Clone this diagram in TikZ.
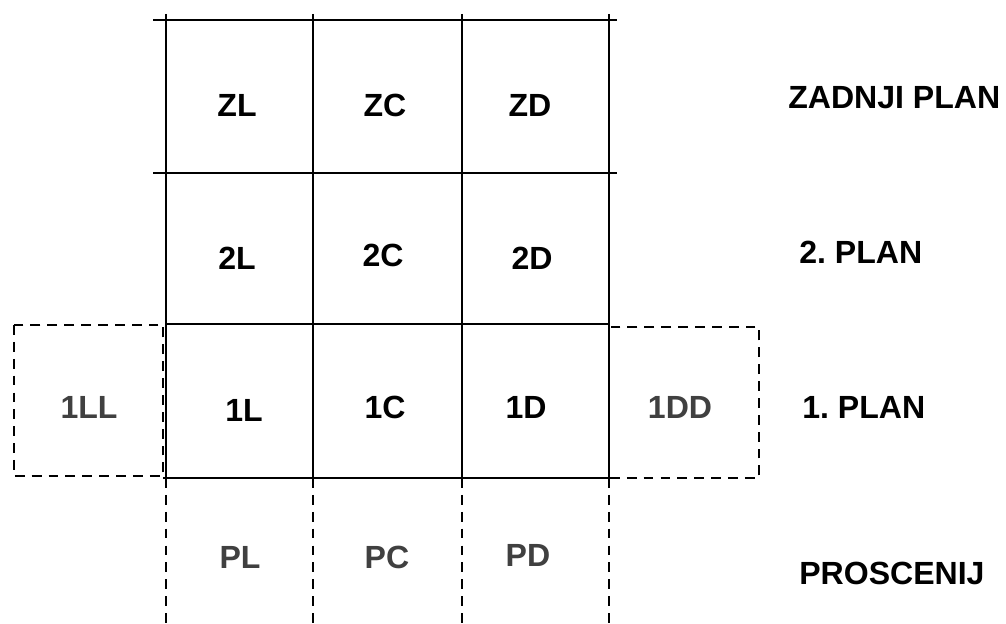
\documentclass[tikz,border=0pt]{standalone}
\usepackage{fontspec}
\setmainfont{Liberation Sans}
\definecolor{siva}{RGB}{64,64,64}
\frenchspacing
\begin{document}
\begin{tikzpicture}[x=0.025cm, y=-0.025cm,
    every node/.style={font=\bfseries\fontsize{22.8}{27}\selectfont, inner sep=0pt},
    grid/.style={line width=1.6pt},
    extra/.style={line width=1.5pt, dash pattern=on 7pt off 5pt},
    pale/.style={text=siva}]
    \fill[white] (0,0) rectangle (1006,624);
    \useasboundingbox (0,0) rectangle (1006,624);

    % solid grid
    \draw[grid] (153,20) -- (617,20);
    \draw[grid] (153,173) -- (617,173);
    \draw[grid] (166,324) -- (609,324);
    \draw[grid] (163,478) -- (609,478);
    \draw[grid] (166,14) -- (166,478);
    \draw[grid] (313,14) -- (313,478);
    \draw[grid] (462,14) -- (462,478);
    \draw[grid] (609,14) -- (609,478);

    % dashed parts
    \draw[extra] (14,325) rectangle (163,476);
    \draw[extra] (609,327) rectangle (759,478);
    \draw[extra] (166,478) -- (166,624);
    \draw[extra] (313,478) -- (313,624);
    \draw[extra] (462,478) -- (462,624);
    \draw[extra] (609,478) -- (609,624);

    \node (zl) at (237,105) {ZL};
    \node (zc) at (385,105) {ZC};
    \node (zd) at (530,105) {ZD};

    \node (sl) at (237,258) {2L};
    \node (sc) at (383,255) {2C};
    \node (sd) at (532,258) {2D};

    \node[pale] (fll) at (89,407) {1LL};
    \node (fl) at (244,410) {1L};
    \node (fc) at (385,407) {1C};
    \node (fd) at (526,407) {1D};
    \node[pale] (fdd) at (680,407) {1DD};

    \node[pale] (pl) at (240,557) {PL};
    \node[pale] (pc) at (387,557) {PC};
    \node[pale] (pd) at (528,555) {PD};

    \node[anchor=west] (zadnji) at (788,98) {ZADNJI PLAN};
    \node[anchor=west] (drugi) at (799,252) {2. PLAN};
    \node[anchor=west] (prvi) at (802,407) {1. PLAN};
    \node[anchor=west] (proscenij) at (799,573) {PROSCENIJ};
\end{tikzpicture}
\end{document}
